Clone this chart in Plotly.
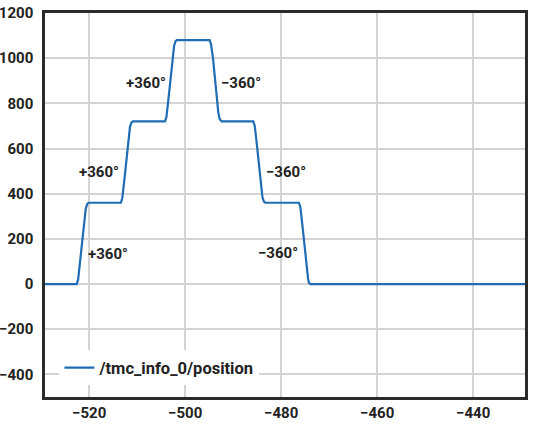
import plotly.graph_objects as go

# position trace (time vs position, degrees)
time_s = [
    -529.2,
    -522.6, -522.3, -521.9, -521.2, -520.7, -520.4, -520.1,
    -513.4, -513.1, -512.7, -512.0, -511.5, -511.2, -510.9,
    -504.2, -503.9, -503.5, -502.8, -502.3, -502.0, -501.7,
    -494.9, -494.6, -494.2, -493.7, -493.1, -492.8, -492.4,
    -485.8, -485.5, -485.1, -484.4, -483.9, -483.6, -483.3,
    -476.3, -476.0, -475.6, -474.9, -474.4, -474.2, -473.9,
    -429.2,
]
position = [
    0,
    0, 20, 95, 255, 335, 355, 360,
    360, 380, 455, 615, 695, 715, 720,
    720, 740, 815, 975, 1055, 1075, 1080,
    1080, 1060, 1000, 880, 760, 730, 720,
    720, 700, 625, 465, 385, 365, 360,
    360, 340, 265, 105, 25, 5, 0,
    0,
]

# step labels
label_text = ["+360°", "+360°", "+360°", "−360°", "−360°", "−360°"]
label_x = [-516.0, -517.9, -508.1, -488.3, -478.9, -480.6]
label_y = [135, 498, 892, 892, 498, 138]

font_main = dict(family="Roboto", size=15, color="#222222", weight=700)

fig = go.Figure()
fig.add_trace(go.Scatter(
    x=time_s, y=position, mode="lines",
    name="/tmc_info_0/position",
    line=dict(color="#1f6db4", width=2.2),
))

for t, x, y in zip(label_text, label_x, label_y):
    fig.add_annotation(x=x, y=y, text=t, showarrow=False, font=font_main)

fig.update_layout(
    width=536, height=424,
    margin=dict(l=45, r=11, t=13, b=27),
    paper_bgcolor="white", plot_bgcolor="white",
    font=font_main,
    showlegend=True,
    legend=dict(
        x=0.03, y=0.03, xanchor="left", yanchor="bottom",
        bgcolor="white", font=dict(font_main, size=16.5),
    ),
)
axis_common = dict(
    showgrid=True, gridcolor="#d4d4d4", gridwidth=1.5,
    showline=True, linecolor="#2b2b2b", linewidth=2.5, mirror="all",
    automargin=False, zeroline=False, ticks="",
)
fig.update_xaxes(
    range=[-529.2, -429.2], tickvals=[-520, -500, -480, -460, -440],
    ticklabelstandoff=0, **axis_common,
)
fig.update_yaxes(
    range=[-500, 1200], tickvals=[-400, -200, 0, 200, 400, 600, 800, 1000, 1200],
    ticklabelstandoff=6, **axis_common,
)

fig.write_html(
    "out.html",
    config=dict(displayModeBar=False),
    post_script="document.body.style.margin='0';",
)
